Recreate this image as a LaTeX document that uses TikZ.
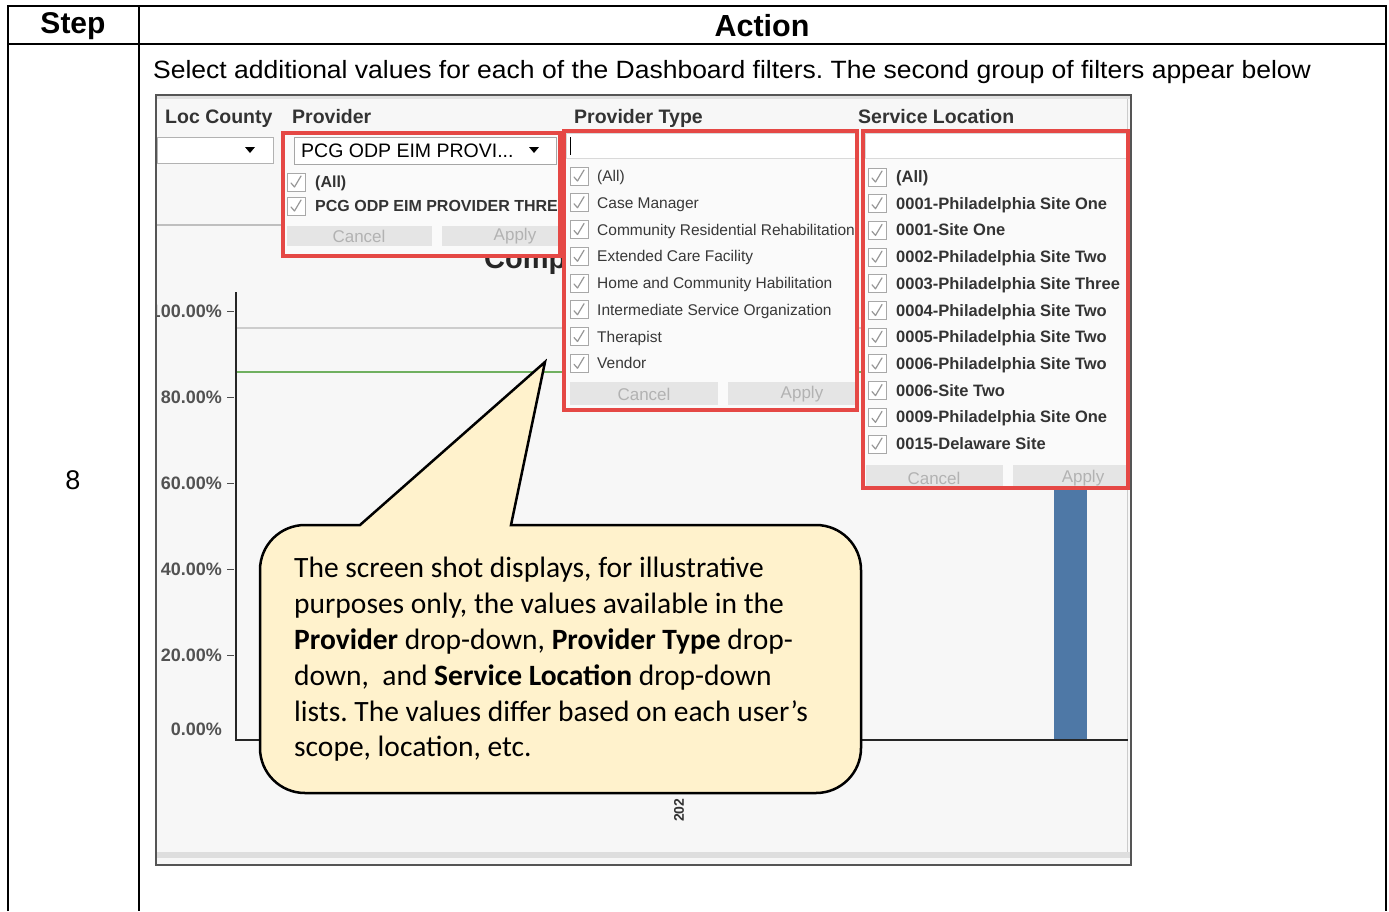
\documentclass[tikz,border=0pt]{standalone}
\usepackage{fontspec}
\setmainfont{Liberation Sans}
\newfontfamily\notefont{Carlito}
\newfontfamily\uifont{Liberation Sans}
\newfontfamily\introfont{Liberation Sans}[FakeStretch=1.06]
\frenchspacing

\definecolor{boxred}{RGB}{229,72,69}
\definecolor{chartbg}{RGB}{247,247,247}
\definecolor{panelbg}{RGB}{250,250,250}
\definecolor{btnfill}{RGB}{229,229,229}
\definecolor{btntext}{RGB}{178,178,178}
\definecolor{uitext}{RGB}{51,51,51}
\definecolor{chkgray}{RGB}{168,168,168}
\definecolor{notefill}{RGB}{255,242,204}
\definecolor{goalgreen}{RGB}{112,176,96}
\definecolor{refgray}{RGB}{205,205,205}
\definecolor{barblue}{RGB}{78,120,166}
\definecolor{framegray}{RGB}{85,85,85}

\newcommand\fsz[1]{\fontsize{#1}{#1}\selectfont}

\tikzset{
  tbl/.style={line width=2pt, black},
  redbox/.style={draw=boxred, line width=3.2pt},
  uibold/.style={font=\uifont\bfseries\fsz{16.5}, text=uitext, inner sep=0pt},
  uiplain/.style={font=\uifont\fsz{15.5}, text=black!78, inner sep=0pt},
  header/.style={font=\uifont\bfseries\fsz{19.5}, text=uitext, inner sep=0pt, anchor=base west},
  tick/.style={font=\uifont\bfseries\fsz{18}, text=uitext!85, inner sep=0pt, anchor=east},
  btnlabel/.style={font=\uifont\fsz{17}, text=btntext, inner sep=0pt},
  notetext/.style={font=\notefont\fsz{29.5}, inner sep=0pt, anchor=base west},
  chk/.pic={
    \draw[fill=white, draw=chkgray, line width=0.9pt] (-9,-9) rectangle (9,9);
    \draw[chkgray!90!black, line width=1.2pt, line cap=round, line join=round]
      (-5,1) -- (-1.5,5) -- (5,-6);
  },
  dropmark/.pic={\fill[black] (-5,-3) -- (5,-3) -- (0,3) -- cycle;}
}

\begin{document}
\begin{tikzpicture}[x=1pt,y=-1pt]
\useasboundingbox (0,0) rectangle (1389,911);

% ---- table frame ----
\draw[tbl] (8,911) -- (8,6) -- (1386,6) -- (1386,911);
\draw[tbl] (8,44) -- (1386,44);
\draw[tbl] (139,6) -- (139,911);
\node[font=\bfseries\fsz{30}] (hstep) at (73,26) {Step};
\node[font=\bfseries\fsz{30.5}] (haction) at (762,26) {Action};
\node[font=\introfont\fsz{25}, anchor=base west, inner sep=0pt] (intro) at (153,78)
  {Select additional values for each of the Dashboard filters. The second group of filters appear below};
\node[font=\fsz{27}] (stepno) at (73,480) {8};

% ---- dashboard screenshot ----
\draw[draw=framegray, line width=1.5pt, fill=chartbg] (156,95) rectangle (1131,865);
\fill[black!12] (157,96) rectangle (1130,99);
\fill[black!13] (157,852) rectangle (1130,858);
\draw[black!20, line width=1pt] (1127,99) -- (1127,852);

% chart
\draw[refgray, line width=2pt] (236,328) -- (1128,328);
\draw[goalgreen, line width=2pt] (236,372) -- (1128,372);
\fill[barblue] (1054,480) rectangle (1087,740);
\draw[black!85, line width=1.5pt] (236,292) -- (236,740) -- (1128,740);
\foreach \yy in {311,397,483,569,655}{
  \draw[black!70, line width=1pt] (227,\yy) -- (234,\yy);
}
\begin{scope}
\clip (157,96) rectangle (1130,864);
\node[tick] (t100) at (222,311) {100.00\%};
\end{scope}
\node[tick] (t80) at (222,397) {80.00\%};
\node[tick] (t60) at (222,483) {60.00\%};
\node[tick] (t40) at (222,569) {40.00\%};
\node[tick] (t20) at (222,655) {20.00\%};
\node[tick] (t0) at (222,729) {0.00\%};
\node[font=\uifont\bfseries\fsz{14}, text=uitext, rotate=90, anchor=west, inner sep=0pt] (yr) at (679,822) {202};
\node[font=\uifont\bfseries\fsz{29}, text=black!85, anchor=base west, inner sep=0pt] (comp) at (484,268) {Comp};

% filter headers
\node[header] (hloc) at (165,123) {Loc County};
\node[header] (hprov) at (292,123) {Provider};
\node[header] (hptype) at (574,123) {Provider Type};
\node[header] (hsloc) at (858,123) {Service Location};

% Loc County combo
\draw[fill=white, draw=black!30] (157,137) rectangle (273,163);
\pic at (250,150) {dropmark};
\draw[black!25, line width=1.5pt] (157,225) -- (283,225);

% Provider drop-down
\fill[panelbg] (283,133) rectangle (560,256);
\draw[fill=white, draw=black!35] (294,137) rectangle (556,164);
\node[font=\uifont\fsz{19.5}, text=black, anchor=base west, inner sep=0pt] (pcombo) at (301,157) {PCG ODP EIM PROVI...};
\pic at (534,150) {dropmark};
\begin{scope}
\clip (284,165) rectangle (558,252);
\pic at (296,182) {chk};
\pic at (296,206) {chk};
\node[uibold, anchor=base west, font=\uifont\bfseries\fsz{16}] (pall) at (315,187.5) {(All)};
\node[uibold, anchor=base west, font=\uifont\bfseries\fsz{16}] (pthree) at (315,211.5) {PCG ODP EIM PROVIDER THREE};
\fill[btnfill] (287,226) rectangle (432,246);
\fill[btnfill] (442,226) rectangle (558,246);
\node[btnlabel] (pcancel) at (359,236) {Cancel};
\node[btnlabel] (papply) at (515,236) {Apply};
\end{scope}
\draw[redbox] (283,133) rectangle (560,256);

% Provider Type drop-down
\fill[panelbg] (564,131) rectangle (857,410);
\draw[fill=white, draw=black!15] (566,133) rectangle (855,158);
\draw[black, line width=1pt] (570,137) -- (570,155);
\foreach \t [count=\i from 0] in {(All),Case Manager,Community Residential Rehabilitation,
  Extended Care Facility,Home and Community Habilitation,Intermediate Service Organization,
  Therapist,Vendor}{
  \pgfmathsetmacro\yy{176+26.75*\i}
  \pic at (579,\yy) {chk};
  \node[uiplain, anchor=base west] (ptype\i) at (597,\yy+5.5) {\t};
}
\fill[btnfill] (570,382) rectangle (718,405);
\fill[btnfill] (728,382) rectangle (855,405);
\node[btnlabel] (tcancel) at (644,394) {Cancel};
\node[btnlabel] (tapply) at (802,394) {Apply};
\draw[redbox] (564,131) rectangle (857,410);

% Service Location drop-down
\fill[panelbg] (863,131) rectangle (1128,488);
\draw[fill=white, draw=black!15] (865,133) rectangle (1126,158);
\foreach \t [count=\i from 0] in {(All),0001-Philadelphia Site One,0001-Site One,
  0002-Philadelphia Site Two,0003-Philadelphia Site Three,0004-Philadelphia Site Two,
  0005-Philadelphia Site Two,0006-Philadelphia Site Two,0006-Site Two,
  0009-Philadelphia Site One,0015-Delaware Site}{
  \pgfmathsetmacro\yy{177+26.7*\i}
  \pic at (877,\yy) {chk};
  \node[uibold, anchor=base west] (sloc\i) at (896,\yy+5.5) {\t};
}
\begin{scope}
\clip (864,460) rectangle (1127,487);
\fill[btnfill] (866,465) rectangle (1003,490);
\fill[btnfill] (1013,465) rectangle (1126,490);
\node[btnlabel] (scancel) at (934,478) {Cancel};
\node[btnlabel] (sapply) at (1083,478) {Apply};
\end{scope}
\draw[redbox] (863,131) rectangle (1128,488);

% ---- callout ----
\draw[fill=notefill, draw=black, line width=2.5pt, line join=miter]
  (360,525) [rounded corners=45pt] -- (260,525) -- (260,793) -- (861,793)
  -- (861,525) [sharp corners] -- (511,525) -- (545,362) -- cycle;
\node[notetext] (n1) at (294,577) {The screen shot displays, for illustrative};
\node[notetext] (n2) at (294,613) {purposes only, the values available in the};
\node[notetext] (n3) at (294,649) {\textbf{Provider} drop-down, \textbf{Provider Type} drop-};
\node[notetext] (n4) at (294,685) {down,\ \ and \textbf{Service Location} drop-down};
\node[notetext] (n5) at (294,721) {lists. The values differ based on each user’s};
\node[notetext] (n6) at (294,756) {scope, location, etc.};
\end{tikzpicture}
\end{document}
